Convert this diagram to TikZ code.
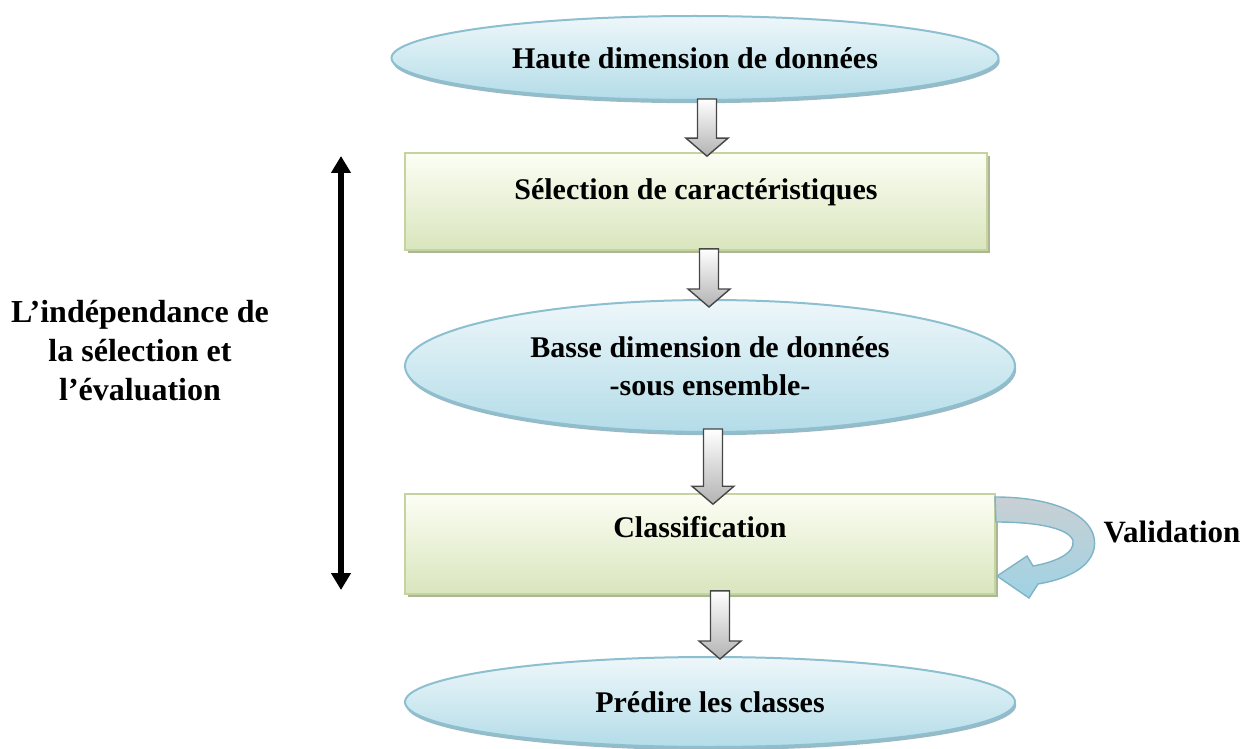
\documentclass[tikz,border=0pt]{standalone}
\usepackage{fontspec}
\setmainfont{Liberation Serif}
\usetikzlibrary{shadows,calc,arrows.meta}
\definecolor{ellborder}{HTML}{8CBFCF}
\definecolor{elltop}{HTML}{EEF7FA}
\definecolor{ellbot}{HTML}{B3DCE8}
\definecolor{ellshadow}{HTML}{7FA9B6}
\definecolor{boxborder}{HTML}{C5D3A0}
\definecolor{boxtop}{HTML}{FCFEF4}
\definecolor{boxbot}{HTML}{D9E5BD}
\definecolor{boxshadow}{HTML}{A3AD88}
\definecolor{valtop}{HTML}{C9D0D3}
\definecolor{valbot}{HTML}{9FD2E4}
\definecolor{valborder}{HTML}{7FB3C6}
\tikzset{
  txt/.style={font=\fontsize{15}{19}\selectfont\bfseries, text=black},
  ellnode/.style={ellipse, draw=ellborder, line width=1pt, top color=elltop, bottom color=ellbot,
     inner sep=0pt, txt, align=center,
     drop shadow={shadow xshift=0.6pt, shadow yshift=-1.6pt, fill=ellshadow, opacity=0.8}},
  boxnode/.style={rectangle, draw=boxborder, line width=0.8pt, top color=boxtop, bottom color=boxbot,
     inner sep=0pt,
     drop shadow={shadow xshift=1.4pt, shadow yshift=-1.6pt, fill=boxshadow, opacity=0.9}},
  blockarrow/.style={draw=gray!55!black, line width=0.7pt, top color=white, bottom color=gray!60},
  dblarrow/.style={line width=2.6pt, {Triangle[width=9.5pt,length=8.5pt]}-{Triangle[width=9.5pt,length=8.5pt]}},
}
\usetikzlibrary{shapes.geometric}
\newcommand\barrow[2]{\path[blockarrow] let \p1=#1, \p2=#2 in
  (\x1-4.75pt,\y1) -- (\x1+4.75pt,\y1) -- (\x1+4.75pt,\y2+9pt) -- (\x1+10.5pt,\y2+9pt)
  -- (\x1,\y2) -- (\x1-10.5pt,\y2+9pt) -- (\x1-4.75pt,\y2+9pt) -- cycle;}
\begin{document}
\begin{tikzpicture}[x=0.5pt,y=-0.5pt]
\useasboundingbox (0,0) rectangle (1248,749);
% nodes
\node[ellnode, minimum width=303.5pt, minimum height=42pt] (e1) at (695,58) {Haute dimension de données};
\node[boxnode, minimum width=291pt, minimum height=48.5pt,
      label={[txt,yshift=4.5pt]center:Sélection de caractéristiques}] (r1) at (696,201.5) {};
\node[ellnode, minimum width=305pt, minimum height=66pt] (e2) at (710,366) {Basse dimension de données\\-sous ensemble-};
\node[boxnode, minimum width=295pt, minimum height=50pt,
      label={[txt,yshift=8.5pt]center:Classification}] (r2) at (700,544) {};
\node[ellnode, minimum width=305pt, minimum height=45pt] (e3) at (710,702) {Prédire les classes};
\node[txt, font=\fontsize{16}{19.5}\selectfont\bfseries, align=center] (lt) at (140,351)
  {L’indépendance de\\la sélection et\\l’évaluation};
\node[txt, font=\fontsize{15.5}{19}\selectfont\bfseries] (val) at (1172,532) {Validation};
% block arrows
\coordinate (a1s) at ($(e1.south)+(12,-2)$);
\coordinate (a1e) at ($(r1.north)+(11,4)$);
\coordinate (a2s) at ($(r1.south)+(13,-2)$);
\coordinate (a2e) at ($(e2.north)+(-1,8)$);
\coordinate (a3s) at ($(e2.south)+(3,-4)$);
\coordinate (a3e) at ($(r2.north)+(13,11)$);
\coordinate (a4s) at ($(r2.south)+(20,-4)$);
\coordinate (a4e) at ($(e3.north)+(10,3)$);
\barrow{(a1s)}{(a1e)}
\barrow{(a2s)}{(a2e)}
\barrow{(a3s)}{(a3e)}
\barrow{(a4s)}{(a4e)}
% double arrow
\coordinate (dtop) at (341,156);
\coordinate (dbot) at (341,590);
\draw[dblarrow] (dtop) -- (dbot);
% validation curved arrow
\path[draw=valborder, line width=0.7pt, top color=valtop, bottom color=valbot]
  (995,497) .. controls (1062,497) and (1100,520) .. (1094,549)
  .. controls (1089,570) and (1062,580) .. (1038,584)
  -- (1029,598) -- (997,576) -- (1027,556) -- (1033,566)
  .. controls (1056,562) and (1075,553) .. (1073,541)
  .. controls (1070,529) and (1040,522) .. (996,522) -- cycle;
\end{tikzpicture}
\end{document}
